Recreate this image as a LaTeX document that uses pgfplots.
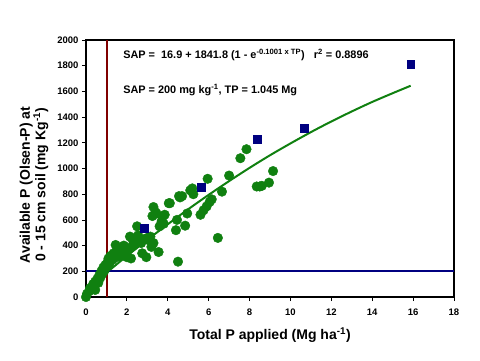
\documentclass[border=0pt]{standalone}
\usepackage{pgfplots}
\pgfplotsset{compat=1.18}
\usepackage{fontspec}
\setmainfont{Liberation Sans}
\definecolor{dotgreen}{RGB}{16,128,16}
\definecolor{sqblue}{RGB}{0,0,128}
\definecolor{darkred}{RGB}{128,0,0}
\begin{document}
\begin{tikzpicture}[x=1pt,y=1pt]
\begin{axis}[
  at={(0pt,0pt)}, anchor=south west,
  scale only axis, width=368pt, height=257pt,
  xmin=0, xmax=18, ymin=0, ymax=2000,
  xtick={0,2,...,18}, ytick={0,200,...,2000},
  axis line style={line width=1.6pt},
  tick style={black, line width=0.8pt},
  major tick length=4pt,
  tick align=outside, xtick pos=bottom, ytick pos=left,
  /pgf/number format/assume math mode=true,
  /pgf/number format/1000 sep={},
  ticklabel style={font=\fontsize{9.5}{10}\selectfont\bfseries},
  xticklabel style={yshift=-4pt},
  clip=false,
]
\addplot[only marks, mark=*, mark size=4.8pt, color=dotgreen] coordinates {
(0.0,0) (0.05,25) (0.15,45) (0.2,70) (0.3,60) (0.35,100) (0.45,120) (0.45,55)
(0.55,140) (0.6,110) (0.65,170) (0.7,150) (0.75,200) (0.8,180) (0.85,230) (0.9,205)
(0.95,250) (1.0,230) (1.05,270) (1.1,300) (1.15,260) (1.2,320) (1.3,290) (1.35,340)
(1.45,405) (1.5,310) (1.55,360) (1.65,320) (1.7,380) (1.8,340) (1.85,400) (1.95,330)
(2.0,310) (2.1,380) (2.15,470) (2.2,300) (2.3,440) (2.3,400)
(2.4,420) (2.5,550) (2.55,480) (2.7,420) (2.75,340) (2.85,450) (2.95,310) (3.0,460)
(3.1,440) (3.15,470) (3.2,390) (3.3,420) (3.25,630) (3.3,700) (3.4,660) (3.45,650)
(3.55,350) (3.6,550) (3.7,590) (3.75,625) (3.8,570) (3.85,640) (4.05,730) (4.1,730)
(4.4,520) (4.45,600) (4.5,275) (4.55,785) (4.6,775) (4.7,785) (4.85,555) (4.95,650)
(5.1,830) (5.2,845) (5.25,800) (5.6,640) (5.75,675) (5.9,705) (6.05,740) (6.15,760)
(5.95,920) (6.45,460) (6.65,820) (7.0,945) (7.55,1080) (7.85,1150) (8.35,860) (8.5,860)
(8.6,865) (8.95,890) (9.15,980)
};
\addplot[only marks, mark=square*, mark size=3.8pt, color=sqblue] coordinates {
(2.85,535) (5.64,853) (8.38,1227) (10.67,1313) (15.88,1811)
};
\addplot[color=dotgreen, line width=2pt, smooth] coordinates {
(0,35) (1,187) (2,319) (3,445) (4,566) (5,683) (6,795) (7,902) (8,1005) (9,1103)
(10,1195) (11,1283) (12,1366) (13,1444) (14,1518) (15,1586) (15.88,1644)
};
\addplot[color=sqblue, line width=1.8pt] coordinates {(0,200) (18,200)};
\addplot[color=darkred, line width=1.8pt] coordinates {(1.045,0) (1.045,2000)};
\node[anchor=west, font=\fontsize{10.9}{12}\selectfont\bfseries] at (axis cs:1.65,1880)
  {SAP =\ \ 16.9 + 1841.8 (1 - e\textsuperscript{-0.1001 x TP})\ \ \ r\textsuperscript{2} = 0.8896};
\node[anchor=west, font=\fontsize{10.9}{12}\selectfont\bfseries] at (axis cs:1.65,1610)
  {SAP = 200 mg kg\textsuperscript{-1}, TP = 1.045 Mg};
\end{axis}
\node[font=\fontsize{14}{15}\selectfont\bfseries] at (184pt,-38pt) {Total P applied (Mg ha\textsuperscript{-1})};
\node[rotate=90, align=center, font=\fontsize{14}{15.5}\selectfont\bfseries] at (-52pt,112pt)
  {Available P (Olsen-P) at\\0 - 15 cm soil (mg Kg\textsuperscript{-1})};
\path[use as bounding box] (-86pt,-63pt) rectangle (394pt,297pt);
\end{tikzpicture}
\end{document}
